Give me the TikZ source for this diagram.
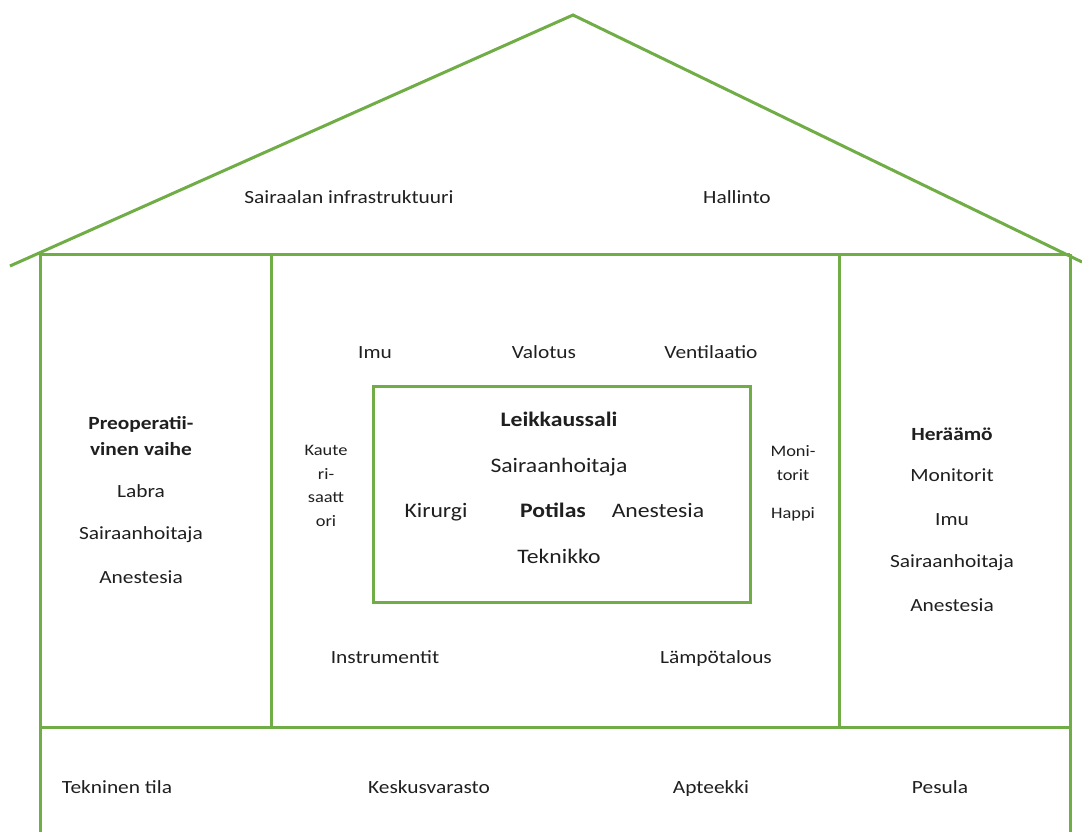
\documentclass[tikz,border=0pt]{standalone}
\usepackage{fontspec}
\setmainfont{Carlito}[FakeStretch=1.15]
\definecolor{housegreen}{RGB}{112,173,71}
\begin{document}
\begin{tikzpicture}[x=1pt,y=-1pt,
  wall/.style={draw=housegreen,line width=3pt},
  lbl/.style={inner sep=0pt,text height=14pt,text depth=2pt,font=\fontsize{18.6}{26}\selectfont,text=black!88},
  blbl/.style={lbl,font=\fontsize{18.6}{26}\selectfont\bfseries},
  ilbl/.style={lbl,text height=15pt,text depth=2pt,font=\fontsize{20.6}{26}\selectfont},
  iblbl/.style={ilbl,font=\fontsize{20.6}{26}\selectfont\bfseries},
  small/.style={inner sep=0pt,font=\fontsize{16}{23.5}\selectfont,align=center,text=black!88}]
\useasboundingbox (0,0) rectangle (1082,832);
% roof
\draw[wall,line join=miter] (10,266) -- (573,15) -- (1082,262);
% walls
\draw[wall] (40,254) -- (1070,254);
\draw[wall] (40,254) -- (40,834);
\draw[wall] (1070,254) -- (1070,834);
\draw[wall] (40,727) -- (1070,727);
\draw[wall] (271,254) -- (271,727);
\draw[wall] (839,254) -- (839,727);
\draw[wall] (373,386) rectangle (750,602);
% roof texts
\node[lbl] (infra) at (349,198) {Sairaalan infrastruktuuri};
\node[lbl] (hallinto) at (737,198) {Hallinto};
% center area
\node[lbl] (imu1) at (375,352) {Imu};
\node[lbl] (valotus) at (544,352) {Valotus};
\node[lbl] (vent) at (711,352) {Ventilaatio};
\node[iblbl] (leik) at (559,420) {Leikkaussali};
\node[ilbl] (sh1) at (559,466) {Sairaanhoitaja};
\node[ilbl] (kir) at (436,511) {Kirurgi};
\node[iblbl] (pot) at (553,511) {Potilas};
\node[ilbl] (an1) at (658,511) {Anestesia};
\node[ilbl] (tek) at (559,557) {Teknikko};
\node[small] (kat) at (326,486) {Kaute\\ri-\\saatt\\ori};
\node[small] (mon) at (793,463) {Moni-\\torit};
\node[small] (happi) at (793,514) {Happi};
\node[lbl] (instr) at (385,657) {Instrumentit};
\node[lbl] (lampo) at (716,657) {Lämpötalous};
% left
\node[inner sep=0pt,align=center,text=black!88,font=\fontsize{18.6}{26}\selectfont\bfseries] (preop) at (141,436) {Preoperatii-\\vinen vaihe};
\node[lbl] (labra) at (141,491) {Labra};
\node[lbl] (sh2) at (141,533) {Sairaanhoitaja};
\node[lbl] (an2) at (141,577) {Anestesia};
% right
\node[blbl] (her) at (952,434) {Heräämö};
\node[lbl] (mon2) at (952,475) {Monitorit};
\node[lbl] (imu2) at (952,519) {Imu};
\node[lbl] (sh3) at (952,561) {Sairaanhoitaja};
\node[lbl] (an3) at (952,605) {Anestesia};
% bottom
\node[lbl] (tekn) at (117,787) {Tekninen tila};
\node[lbl] (kesk) at (429,787) {Keskusvarasto};
\node[lbl] (apt) at (711,787) {Apteekki};
\node[lbl] (pes) at (940,787) {Pesula};
\end{tikzpicture}
\end{document}
